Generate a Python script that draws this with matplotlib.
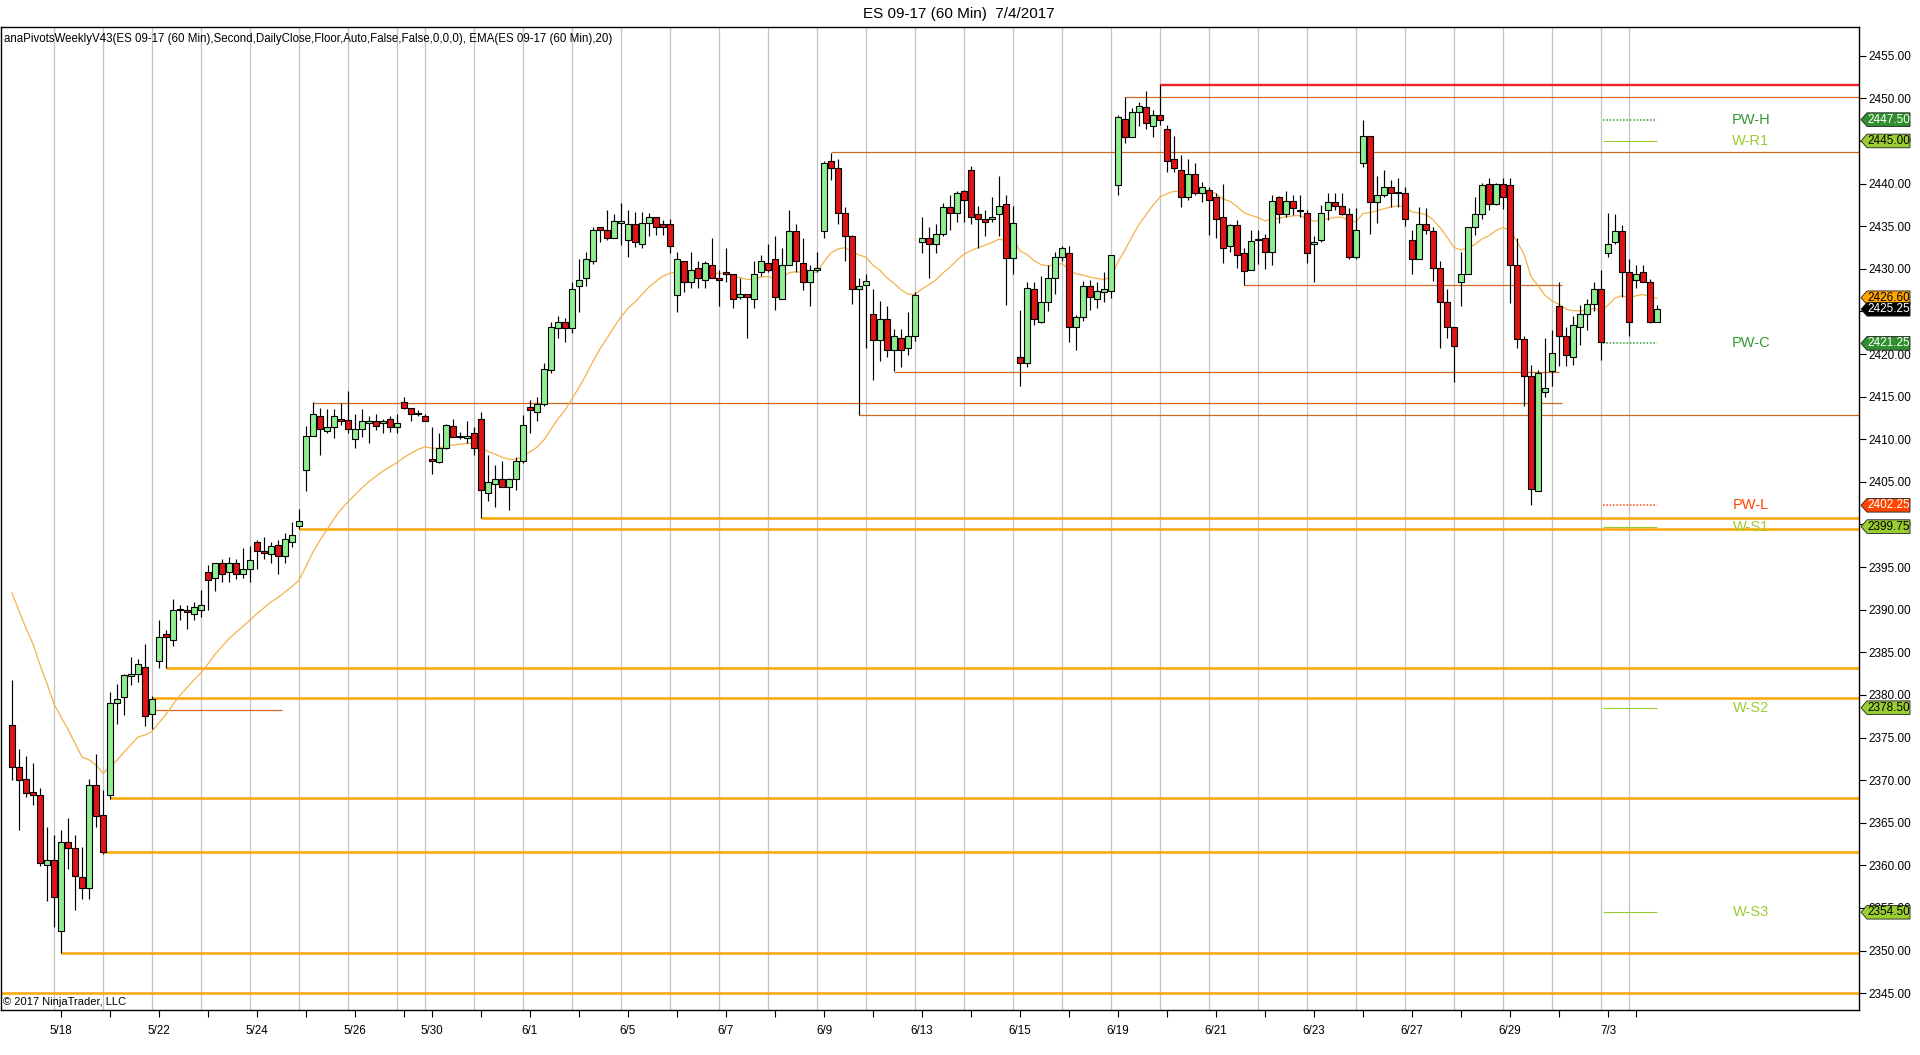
import numpy as np
import matplotlib
matplotlib.use("Agg")
import matplotlib.pyplot as plt
from matplotlib.patches import Polygon
import matplotlib.transforms as mtransforms

plt.rcParams['font.family'] = ['Liberation Sans', 'DejaVu Sans']

# ---------------- data ----------------
title = "ES 09-17 (60 Min)  7/4/2017"
indicator_text = ("anaPivotsWeeklyV43(ES 09-17 (60 Min),Second,DailyClose,Floor,Auto,False,False,0,0,0), "
                  "EMA(ES 09-17 (60 Min),20)")
copyright_text = "\u00a9 2017 NinjaTrader, LLC"

session_dates = ["5/17", "5/18", "5/19", "5/22", "5/23", "5/24", "5/25", "5/26", "5/29",
                 "5/30", "5/31", "6/1", "6/2", "6/5", "6/6", "6/7", "6/8", "6/9", "6/12",
                 "6/13", "6/14", "6/15", "6/16", "6/19", "6/20", "6/21", "6/22", "6/23",
                 "6/26", "6/27", "6/28", "6/29", "6/30", "7/3", "7/4"]
session_bars = [7, 7, 7, 7, 7, 7, 7, 7, 4,
                7, 7, 7, 7, 7, 7, 7, 7, 7, 7,
                7, 7, 7, 7, 7, 7, 7, 7, 7,
                7, 7, 7, 7, 7, 4, 4]
labeled_dates = ["5/18", "5/22", "5/24", "5/26", "5/30", "6/1", "6/5", "6/7", "6/9",
                 "6/13", "6/15", "6/19", "6/21", "6/23", "6/27", "6/29", "7/3"]

opens = [2376.5, 2371.6, 2370.1, 2368.6, 2368.3, 2360.1, 2360.6, 2352.3, 2362.8, 2362.0,
         2358.6, 2357.4, 2369.4, 2365.9, 2368.3, 2379.1, 2379.8, 2382.2, 2382.5, 2383.3,
         2377.8, 2384.0, 2387.1, 2386.4, 2390.0, 2390.0, 2389.5, 2390.0, 2394.4, 2393.7,
         2395.5, 2394.4, 2395.5, 2394.2, 2394.8, 2398.0, 2396.9, 2396.5, 2397.6, 2396.3,
         2398.0, 2399.8, 2406.4, 2410.4, 2412.7, 2411.0, 2411.4, 2412.4, 2412.2, 2410.0,
         2411.2, 2411.9, 2412.1, 2411.9, 2412.4, 2411.4, 2414.4, 2413.7, 2413.0, 2412.7,
         2407.7, 2407.3, 2409.0, 2411.5, 2410.3, 2410.1, 2410.7, 2412.4, 2403.7, 2404.8,
         2405.3, 2404.4, 2405.3, 2407.4, 2413.8, 2413.2, 2414.1, 2418.1, 2423.1, 2423.7,
         2423.1, 2428.0, 2428.9, 2430.9, 2434.9, 2434.6, 2433.6, 2435.4, 2433.4, 2435.2,
         2432.9, 2435.4, 2436.1, 2435.2, 2435.2, 2426.9, 2430.9, 2428.4, 2430.1, 2428.7,
         2430.5, 2428.9, 2429.6, 2429.4, 2426.7, 2427.1, 2426.4, 2429.6, 2430.7, 2431.1,
         2426.4, 2430.5, 2434.4, 2430.7, 2428.4, 2429.8, 2434.4, 2442.7, 2441.8, 2436.6,
         2433.9, 2427.6, 2428.1, 2424.7, 2421.7, 2424.1, 2420.5, 2421.9, 2420.7, 2422.1,
         2433.1, 2433.6, 2432.9, 2434.1, 2437.3, 2436.6, 2439.1, 2441.6, 2436.4, 2435.8,
         2435.8, 2436.4, 2437.6, 2431.3, 2419.6, 2418.9, 2427.6, 2423.8, 2426.1, 2428.9,
         2431.4, 2431.8, 2423.2, 2424.4, 2428.0, 2426.5, 2427.3, 2427.4, 2439.8, 2447.6,
         2445.5, 2448.4, 2449.0, 2446.8, 2448.1, 2446.4, 2442.9, 2441.6, 2438.4, 2441.1,
         2438.9, 2439.3, 2438.4, 2436.1, 2432.7, 2435.1, 2431.8, 2429.8, 2433.4, 2433.6,
         2432.0, 2438.4, 2436.4, 2438.0, 2436.8, 2436.6, 2432.9, 2433.4, 2436.9, 2437.8,
         2437.4, 2436.4, 2431.4, 2442.4, 2445.6, 2437.8, 2438.7, 2439.6, 2438.9, 2438.9,
         2433.4, 2431.1, 2435.3, 2434.4, 2430.1, 2426.1, 2423.2, 2428.4, 2429.4, 2434.9,
         2436.4, 2440.0, 2437.6, 2440.0, 2439.8, 2430.4, 2421.8, 2417.4, 2403.9, 2415.5,
         2418.0, 2425.6, 2422.1, 2419.6, 2423.2, 2424.7, 2425.9, 2427.6, 2431.8, 2433.1,
         2434.4, 2429.6, 2428.7, 2429.6, 2428.4, 2423.8]
highs = [2381.8, 2373.6, 2372.8, 2372.0, 2369.1, 2364.5, 2363.6, 2364.2, 2365.6, 2363.6,
         2362.1, 2370.1, 2373.1, 2368.8, 2380.3, 2381.3, 2382.5, 2384.5, 2384.2, 2386.0,
         2379.9, 2388.8, 2387.6, 2391.3, 2390.5, 2390.5, 2390.9, 2392.3, 2395.3, 2395.5,
         2395.9, 2396.2, 2396.0, 2397.2, 2397.5, 2398.2, 2398.5, 2398.0, 2398.2, 2399.0,
         2400.3, 2401.8, 2411.5, 2414.4, 2413.7, 2413.5, 2413.5, 2414.3, 2415.7, 2413.0,
         2413.5, 2412.7, 2413.0, 2412.4, 2412.7, 2413.0, 2415.0, 2413.7, 2413.4, 2413.0,
         2411.4, 2410.7, 2411.8, 2412.4, 2410.9, 2412.1, 2411.4, 2413.2, 2408.2, 2407.0,
         2407.5, 2405.5, 2407.9, 2412.8, 2414.6, 2415.0, 2419.0, 2423.8, 2424.5, 2424.2,
         2428.5, 2431.1, 2432.0, 2434.9, 2434.9, 2436.9, 2436.4, 2437.7, 2436.9, 2436.7,
         2436.7, 2436.6, 2436.1, 2435.7, 2435.8, 2432.0, 2430.9, 2432.0, 2430.9, 2430.9,
         2433.6, 2429.9, 2432.4, 2429.4, 2428.9, 2427.1, 2430.9, 2431.6, 2432.9, 2433.9,
         2432.4, 2436.9, 2435.3, 2433.6, 2430.4, 2432.0, 2442.6, 2443.6, 2442.9, 2437.3,
         2434.0, 2428.9, 2429.4, 2427.6, 2426.2, 2425.6, 2422.9, 2422.9, 2424.9, 2427.3,
         2436.1, 2434.9, 2435.3, 2437.7, 2438.7, 2439.1, 2439.2, 2442.1, 2437.4, 2436.9,
         2438.4, 2440.9, 2438.7, 2437.4, 2425.2, 2428.4, 2428.5, 2429.2, 2430.5, 2432.0,
         2432.7, 2432.7, 2424.6, 2428.6, 2428.7, 2428.5, 2429.6, 2431.6, 2448.1, 2450.1,
         2448.9, 2449.6, 2450.9, 2448.6, 2451.6, 2446.9, 2445.6, 2443.4, 2442.9, 2442.4,
         2440.2, 2439.6, 2438.9, 2440.0, 2435.3, 2435.7, 2432.4, 2434.6, 2434.5, 2434.1,
         2438.7, 2438.5, 2439.1, 2438.7, 2438.7, 2436.9, 2433.9, 2437.5, 2438.9, 2438.9,
         2438.9, 2437.1, 2437.1, 2447.5, 2445.6, 2440.9, 2441.6, 2440.4, 2440.6, 2439.6,
         2434.6, 2437.2, 2437.1, 2434.9, 2430.9, 2427.6, 2423.2, 2432.0, 2434.9, 2438.4,
         2440.1, 2440.6, 2440.1, 2440.6, 2440.6, 2433.6, 2422.1, 2418.7, 2418.1, 2421.9,
         2422.8, 2428.4, 2423.2, 2424.5, 2425.8, 2426.5, 2428.5, 2429.9, 2436.6, 2436.4,
         2435.1, 2431.2, 2430.4, 2430.4, 2428.8, 2425.8]
lows = [2370.0, 2364.2, 2368.0, 2367.1, 2359.9, 2355.8, 2352.8, 2349.7, 2359.6, 2354.8,
        2356.1, 2356.1, 2364.5, 2361.3, 2367.8, 2376.6, 2377.7, 2381.2, 2381.5, 2376.4,
        2376.0, 2383.1, 2383.1, 2385.7, 2388.8, 2387.7, 2388.8, 2389.2, 2390.0, 2392.2,
        2393.2, 2393.2, 2393.6, 2393.7, 2393.2, 2394.8, 2396.0, 2395.5, 2394.2, 2395.5,
        2397.4, 2399.5, 2403.9, 2410.4, 2408.2, 2410.7, 2410.1, 2411.7, 2410.7, 2409.0,
        2410.3, 2409.6, 2411.1, 2410.7, 2410.9, 2410.7, 2413.5, 2412.1, 2412.7, 2412.1,
        2405.9, 2407.2, 2408.8, 2410.3, 2410.0, 2409.6, 2408.2, 2400.8, 2402.7, 2402.1,
        2404.4, 2401.7, 2404.1, 2407.2, 2410.7, 2412.1, 2413.9, 2417.8, 2421.9, 2421.4,
        2422.5, 2424.9, 2428.0, 2430.6, 2433.1, 2433.4, 2433.6, 2432.8, 2431.4, 2432.6,
        2432.4, 2433.8, 2434.0, 2434.0, 2431.8, 2424.9, 2427.3, 2427.8, 2427.8, 2427.8,
        2428.9, 2425.6, 2428.4, 2425.4, 2426.4, 2421.9, 2425.4, 2429.1, 2429.6, 2425.2,
        2426.4, 2430.5, 2429.6, 2427.5, 2425.6, 2429.6, 2433.6, 2440.4, 2435.2, 2430.9,
        2425.9, 2412.8, 2420.7, 2416.9, 2419.2, 2419.6, 2418.0, 2418.5, 2419.9, 2421.5,
        2431.8, 2428.9, 2431.8, 2433.8, 2434.6, 2435.5, 2435.5, 2435.3, 2432.4, 2433.8,
        2435.5, 2433.8, 2425.8, 2429.4, 2416.3, 2418.5, 2423.4, 2423.6, 2425.0, 2427.0,
        2430.9, 2421.4, 2420.5, 2423.9, 2425.2, 2425.4, 2426.1, 2426.6, 2438.6, 2444.8,
        2445.5, 2446.8, 2446.4, 2445.5, 2446.9, 2441.4, 2441.3, 2437.3, 2438.1, 2438.7,
        2437.8, 2434.0, 2433.6, 2430.7, 2432.0, 2430.1, 2428.1, 2429.8, 2430.6, 2430.0,
        2430.4, 2435.4, 2436.1, 2436.3, 2436.1, 2430.7, 2428.4, 2433.1, 2435.7, 2436.9,
        2436.3, 2431.1, 2431.1, 2442.0, 2434.1, 2435.4, 2438.4, 2437.2, 2437.2, 2435.0,
        2429.4, 2431.1, 2434.1, 2428.6, 2420.7, 2421.9, 2416.7, 2425.6, 2429.4, 2434.0,
        2435.8, 2436.9, 2437.5, 2437.0, 2426.0, 2420.7, 2413.9, 2402.3, 2403.9, 2414.9,
        2416.3, 2418.6, 2418.6, 2418.7, 2421.1, 2422.8, 2425.0, 2419.3, 2431.4, 2432.9,
        2426.7, 2422.1, 2427.8, 2428.4, 2423.6, 2423.8]
closes = [2371.6, 2370.0, 2368.5, 2368.3, 2360.3, 2360.6, 2356.3, 2362.8, 2362.0, 2358.8,
          2357.4, 2369.4, 2365.8, 2361.6, 2379.1, 2379.5, 2382.3, 2382.5, 2383.6, 2377.5,
          2379.5, 2386.8, 2386.8, 2390.0, 2390.0, 2389.7, 2390.3, 2390.5, 2393.5, 2395.5,
          2394.2, 2395.5, 2394.2, 2394.8, 2395.8, 2396.9, 2396.6, 2397.5, 2396.3, 2398.3,
          2398.8, 2400.4, 2410.4, 2413.0, 2411.2, 2411.4, 2412.7, 2412.1, 2411.2, 2411.2,
          2412.1, 2412.1, 2411.6, 2412.1, 2411.4, 2411.9, 2413.7, 2413.0, 2413.0, 2412.1,
          2407.4, 2409.0, 2411.7, 2410.3, 2410.4, 2410.4, 2409.0, 2404.0, 2405.0, 2405.3,
          2404.4, 2405.3, 2407.5, 2411.7, 2413.4, 2414.1, 2418.2, 2423.2, 2423.7, 2423.1,
          2427.6, 2428.7, 2431.1, 2434.6, 2434.6, 2433.6, 2435.6, 2435.6, 2435.2, 2433.1,
          2435.4, 2436.1, 2434.9, 2434.9, 2432.7, 2431.1, 2428.4, 2429.8, 2428.9, 2430.7,
          2428.9, 2428.7, 2429.4, 2426.4, 2427.1, 2426.7, 2429.4, 2430.9, 2429.9, 2426.7,
          2430.5, 2434.4, 2430.9, 2428.4, 2429.8, 2430.1, 2442.4, 2441.8, 2436.6, 2433.9,
          2427.6, 2428.0, 2428.6, 2421.7, 2424.1, 2420.5, 2422.1, 2420.5, 2422.1, 2426.9,
          2433.6, 2432.9, 2434.1, 2437.3, 2436.6, 2438.9, 2438.1, 2436.1, 2435.8, 2435.5,
          2436.1, 2437.4, 2431.3, 2435.4, 2418.9, 2427.7, 2424.1, 2426.1, 2428.9, 2431.4,
          2432.4, 2423.2, 2424.4, 2428.0, 2426.7, 2427.4, 2427.6, 2431.6, 2447.8, 2445.5,
          2448.4, 2449.1, 2447.1, 2448.1, 2447.5, 2442.6, 2441.8, 2438.4, 2441.1, 2438.9,
          2439.6, 2438.1, 2435.8, 2432.4, 2435.1, 2431.6, 2429.7, 2433.3, 2433.5, 2432.0,
          2438.0, 2436.4, 2438.0, 2437.1, 2436.9, 2431.8, 2433.2, 2436.6, 2437.8, 2437.4,
          2436.4, 2431.4, 2434.6, 2445.6, 2437.8, 2438.6, 2439.6, 2438.9, 2438.9, 2435.9,
          2431.1, 2435.3, 2434.6, 2430.1, 2426.1, 2423.2, 2420.9, 2429.4, 2434.9, 2436.4,
          2439.8, 2437.6, 2440.0, 2438.4, 2430.4, 2421.8, 2417.4, 2404.2, 2417.8, 2416.0,
          2420.1, 2422.1, 2419.9, 2423.4, 2424.7, 2425.9, 2427.6, 2421.4, 2432.9, 2434.4,
          2429.6, 2423.8, 2429.4, 2428.4, 2423.8, 2425.25]

ema_period = 20
ema_prior_value = 2394.1   # EMA value carried in from the bar before the first shown bar

y_ticks = [2345, 2350, 2355, 2360, 2365, 2370, 2375, 2380, 2385, 2390, 2395, 2400,
           2405, 2410, 2415, 2420, 2425, 2430, 2435, 2440, 2445, 2450, 2455]

# historical horizontal levels: price, anchor bar, end bar (None = runs to the right edge)
level_prices = [2451.6, 2450.1, 2443.7, 2428.1, 2417.9, 2414.3, 2412.8, 2400.8, 2399.5,
                2383.1, 2379.6, 2378.2, 2367.9, 2361.6, 2349.7, 2345.0]
level_from_bar = [164, 159, 117, 176, 126, 43, 121, 67, 41, 22, 20, 20, 14, 13, 7, -2]
level_to_bar = [None, None, None, 221.4, 221.0, 221.4, None, None, None, None, None, 38.6,
                None, None, None, None]
level_kind = ["red", "brown", "brown", "brown", "brown", "brown", "brown", "orange", "orange",
              "orange", "orange", "brown", "orange", "orange", "orange", "orange"]

# current-week pivots
pivot_names = ["PW-H", "W-R1", "PW-C", "PW-L", "W-S1", "W-S2", "W-S3"]
pivot_values = [2447.50, 2445.00, 2421.25, 2402.25, 2399.75, 2378.50, 2354.50]
pivot_kind = ["pw_hi", "r", "pw_c", "pw_lo", "s", "s", "s"]

# price markers on the right axis
tag_values = [2447.50, 2445.00, 2421.25, 2402.25, 2399.75, 2378.50, 2354.50, 2426.60, 2425.25]
tag_kind = ["pw_hi", "r", "pw_c", "pw_lo", "s", "s", "s", "ema", "last"]

# ---------------- styles ----------------
UP = "#90EE90"
DOWN = "#E01414"
level_style = {"red": ("#F0202A", 1.7), "brown": ("#D2691E", 0.9), "orange": ("#FFA500", 1.8)}
pivot_color = {"pw_hi": "#339933", "r": "#9ACD32", "pw_c": "#339933", "pw_lo": "#FF4500", "s": "#9ACD32"}
pivot_ls = {"pw_hi": (0, (1, 1.2)), "r": "-", "pw_c": (0, (1, 1.2)), "pw_lo": (0, (1, 1.2)), "s": "-"}
pivot_lw = {"pw_hi": 1.1, "r": 0.8, "pw_c": 1.1, "pw_lo": 1.1, "s": 0.8}
tag_style = {"pw_hi": ("#2F8F2F", "white"), "r": ("#9ACD32", "black"), "pw_c": ("#2F8F2F", "white"),
             "pw_lo": ("#FF4500", "white"), "s": ("#9ACD32", "black"), "ema": ("#FFA500", "black"),
             "last": ("black", "white")}

W, H = 1920, 1055
fig = plt.figure(figsize=(W / 100, H / 100), dpi=100)
fig.patch.set_facecolor("white")
ax_left_px, ax_right_px, ax_top_px, ax_bot_px = 1, 1859, 27, 1010
ax = fig.add_axes([ax_left_px / W, (H - ax_bot_px) / H, (ax_right_px - ax_left_px) / W,
                   (ax_bot_px - ax_top_px) / H])
ax.set_facecolor("white")

n = len(closes)
idx = np.arange(n)
o = np.array(opens); h = np.array(highs); l = np.array(lows); c = np.array(closes)

xmin, xmax = -11 / 7, (1859 - 12) / 7
ax.set_xlim(xmin, xmax)
ax.set_ylim(2343.03, 2458.37)

# session grid lines (at last bar of each session)
starts = np.concatenate([[0], np.cumsum(session_bars)[:-1]])
ends = np.cumsum(session_bars) - 1
for e in ends[:-1]:
    ax.axvline(e, color="#C4C4C4", lw=0.9, zorder=0.5)

# historical levels
for p, a, b, k in zip(level_prices, level_from_bar, level_to_bar, level_kind):
    col, lw = level_style[k]
    ax.hlines(p, a, xmax if b is None else b, color=col, lw=lw, zorder=1.5)

# EMA
k_ = 2.0 / (ema_period + 1)
ema = np.empty(n)
prev = ema_prior_value
for i in range(n):
    prev = prev + k_ * (c[i] - prev)
    ema[i] = prev
ax.plot(idx, ema, color="#F5B24A", lw=0.9, zorder=2)

# current week pivot lines and labels
piv_x0, piv_x1 = 227.3, 235.0
for name, v, k in zip(pivot_names, pivot_values, pivot_kind):
    ax.hlines(v, piv_x0, piv_x1, color=pivot_color[k], lw=pivot_lw[k], linestyles=pivot_ls[k], zorder=2)
    ax.text(248.4, v, name, color=pivot_color[k], fontsize=10.5, ha="center", va="center", zorder=5)

# candles
up = c >= o
ax.vlines(idx, l, h, color="black", lw=0.85, zorder=3)
body_lo = np.minimum(o, c)
body_h = np.maximum(np.abs(c - o), 0.06)
ax.bar(idx, body_h, bottom=body_lo, width=0.72, color=np.where(up, UP, DOWN),
       edgecolor="black", linewidth=0.8, zorder=4)

# axes styling
for s in ax.spines.values():
    s.set_color("black"); s.set_linewidth(1.0)
ax.yaxis.tick_right()
ax.set_yticks(y_ticks)
ax.set_yticklabels([f"{v:.2f}" for v in y_ticks])
ax.tick_params(axis="y", direction="out", length=5, width=0.8, pad=2, labelsize=8.5, colors="black")

tick_pos = [int(s) for s in starts[1:]]
tick_lab = [d if d in labeled_dates else "" for d in session_dates[1:]]
ax.set_xticks(tick_pos)
ax.set_xticklabels(tick_lab)
ax.tick_params(axis="x", direction="out", length=5, width=0.8, pad=6, labelsize=8.4, colors="black")

# texts
ax.text(3 / (ax_right_px - ax_left_px), (ax_bot_px - 39) / (ax_bot_px - ax_top_px), indicator_text,
        transform=ax.transAxes, fontsize=8.3, va="center", ha="left", color="black", zorder=6)
ax.text(2 / (ax_right_px - ax_left_px), (ax_bot_px - 1002) / (ax_bot_px - ax_top_px), copyright_text,
        transform=ax.transAxes, fontsize=8.0, va="center", ha="left", color="black", zorder=6)
fig.text(959 / W, 1 - 14 / H, title, fontsize=11, ha="center", va="center", color="black")

# right-axis price tags
trans = mtransforms.blended_transform_factory(fig.transFigure, ax.transData)
tx0, tx1, tx2 = 1861 / W, 1867 / W, 1910 / W
hh = 0.80
for v, k in zip(tag_values, tag_kind):
    fc, tc = tag_style[k]
    poly = Polygon([(tx0, v), (tx1, v + hh), (tx2, v + hh), (tx2, v - hh), (tx1, v - hh)],
                   closed=True, transform=trans, facecolor=fc, edgecolor="#202020", lw=0.6,
                   clip_on=False, zorder=10)
    fig.add_artist(poly)
    fig.text(1888.5 / W, v, f"{v:.2f}", transform=trans, fontsize=8.5, color=tc,
             ha="center", va="center", zorder=11)

fig.savefig("out.png", dpi=100, facecolor="white")
